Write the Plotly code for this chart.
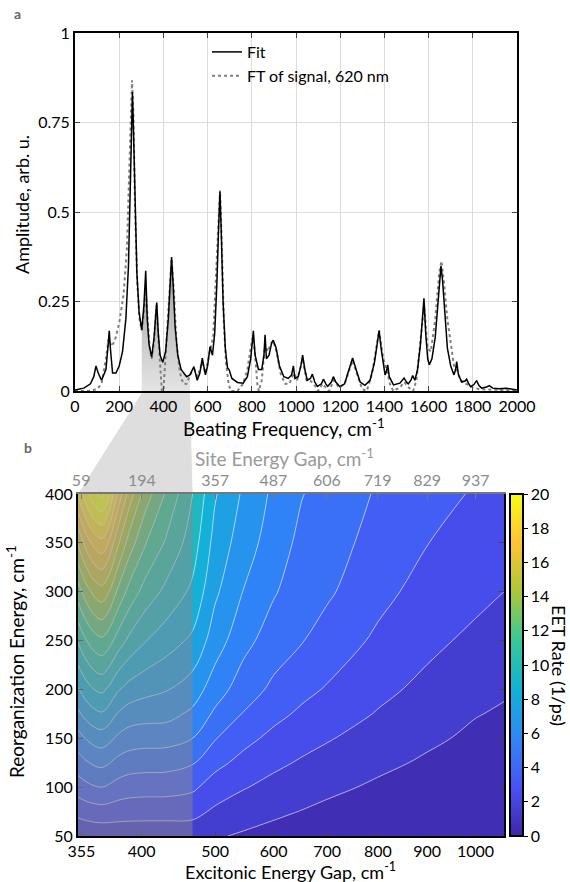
import numpy as np
import plotly.graph_objects as go

# ---- panel a: spectrum vertices ----
FIT_F = [0, 40, 70, 85, 95, 105, 120, 140, 150, 155, 160, 170, 185, 200, 215, 230, 242, 250, 256, 260,
         265, 272, 280, 290, 302, 312, 320, 327, 335, 347, 358, 365, 370, 377, 385, 397, 410, 422, 430, 437,
         444, 453, 465, 480, 505, 520, 538, 553, 565, 576, 590, 600, 611, 622, 632, 642, 650, 656, 662, 670,
         680, 690, 697, 710, 735, 761, 780, 795, 807, 815, 830, 845, 855, 860, 866, 878, 890, 897, 910, 925,
         945, 965, 980, 988, 995, 1010, 1022, 1030, 1040, 1051, 1065, 1074, 1085, 1097, 1115, 1124, 1135, 1144,
         1160, 1169, 1180, 1199, 1220, 1240, 1256, 1272, 1290, 1312, 1335, 1355, 1368, 1376, 1385, 1395, 1403,
         1409, 1415, 1422, 1441, 1470, 1489, 1500, 1508, 1520, 1528, 1538, 1550, 1563, 1573, 1579, 1587, 1596,
         1603, 1615, 1630, 1642, 1650, 1656, 1663, 1672, 1685, 1700, 1715, 1722, 1727, 1735, 1750, 1765, 1772,
         1780, 1790, 1805, 1817, 1828, 1840, 1865, 1875, 1890, 1920, 1950, 1980, 2000]
FIT_A = [0.003, 0.008, 0.02, 0.04, 0.07, 0.05, 0.03, 0.06, 0.13, 0.168, 0.12, 0.05, 0.05, 0.07, 0.11, 0.2, 0.35,
         0.55, 0.75, 0.835, 0.72, 0.5, 0.33, 0.22, 0.17, 0.24, 0.336, 0.2, 0.13, 0.095, 0.15, 0.21, 0.247, 0.16,
         0.1, 0.08, 0.11, 0.2, 0.3, 0.374, 0.3, 0.18, 0.1, 0.06, 0.04, 0.045, 0.068, 0.03, 0.05, 0.092, 0.045,
         0.07, 0.124, 0.1, 0.16, 0.3, 0.46, 0.557, 0.44, 0.25, 0.12, 0.065, 0.06, 0.035, 0.024, 0.022, 0.04,
         0.09, 0.168, 0.1, 0.06, 0.06, 0.1, 0.157, 0.09, 0.1, 0.135, 0.142, 0.12, 0.07, 0.04, 0.035, 0.045,
         0.07, 0.035, 0.04, 0.07, 0.1, 0.06, 0.03, 0.035, 0.047, 0.025, 0.013, 0.02, 0.033, 0.02, 0.013, 0.025,
         0.04, 0.025, 0.012, 0.02, 0.06, 0.092, 0.06, 0.025, 0.016, 0.03, 0.08, 0.14, 0.168, 0.12, 0.07, 0.045,
         0.055, 0.073, 0.04, 0.017, 0.022, 0.036, 0.025, 0.02, 0.03, 0.043, 0.03, 0.06, 0.13, 0.22, 0.259, 0.16,
         0.09, 0.073, 0.09, 0.15, 0.25, 0.32, 0.349, 0.31, 0.22, 0.12, 0.07, 0.045, 0.06, 0.082, 0.045, 0.025,
         0.028, 0.033, 0.022, 0.012, 0.018, 0.029, 0.015, 0.008, 0.012, 0.015, 0.008, 0.006, 0.008, 0.004, 0.003]

FT_F = [0, 60, 100, 120, 140, 152, 165, 180, 200, 220, 235, 245, 252, 258, 264, 272, 282, 292, 302, 312, 320,
        328, 338, 347, 358, 368, 376, 385, 393, 400, 410, 425, 437, 447, 460, 475, 490, 505, 525, 540, 555,
        575, 590, 610, 625, 640, 650, 656, 664, 673, 683, 695, 705, 735, 760, 780, 795, 805, 815, 825, 832,
        845, 860, 872, 885, 897, 912, 930, 950, 970, 990, 1005, 1030, 1048, 1062, 1080, 1100, 1120, 1135, 1150,
        1170, 1195, 1220, 1256, 1280, 1300, 1320, 1345, 1376, 1395, 1410, 1425, 1440, 1470, 1490, 1510, 1530,
        1545, 1560, 1580, 1595, 1610, 1630, 1648, 1658, 1670, 1685, 1700, 1715, 1728, 1745, 1770, 1800, 1830,
        1870, 1920, 2000]
FT_A = [0.0, 0.0, 0.005, 0.02, 0.09, 0.145, 0.125, 0.14, 0.19, 0.27, 0.4, 0.6, 0.78, 0.868, 0.78, 0.5, 0.3, 0.2,
        0.17, 0.22, 0.28, 0.2, 0.12, 0.09, 0.14, 0.24, 0.16, 0.06, 0.0, 0.0, 0.1, 0.28, 0.37, 0.28, 0.13, 0.05,
        0.02, 0.02, 0.05, 0.06, 0.04, 0.08, 0.05, 0.11, 0.15, 0.35, 0.5, 0.56, 0.42, 0.2, 0.08, 0.02, 0.0, 0.0,
        0.02, 0.06, 0.12, 0.15, 0.1, 0.02, 0.0, 0.03, 0.13, 0.11, 0.13, 0.14, 0.11, 0.05, 0.02, 0.02, 0.05, 0.03,
        0.09, 0.03, 0.03, 0.02, 0.0, 0.02, 0.01, 0.0, 0.03, 0.01, 0.02, 0.085, 0.04, 0.005, 0.0, 0.05, 0.17,
        0.09, 0.06, 0.02, 0.0, 0.01, 0.025, 0.01, 0.0, 0.03, 0.12, 0.24, 0.12, 0.11, 0.2, 0.33, 0.363, 0.3, 0.2,
        0.13, 0.07, 0.06, 0.03, 0.02, 0.01, 0.005, 0.005, 0.003, 0.0]

BAND = (302, 520)   # highlighted frequency window

# ---- panel b: EET rate map ----
SITE_GAP = [52, 70, 88, 105, 120, 140, 165, 200, 250, 307, 357, 420, 487, 550, 606, 719, 829, 937, 1000]
REORG = [50, 75, 100, 125, 150, 175, 200, 250, 300, 350, 400]
RATE = [
    [1.15, 1.22, 1.28, 1.3, 1.32, 1.35, 1.37, 1.37, 1.38, 1.4, 1.1, 0.88, 0.68, 0.5, 0.36, 0.25, 0.1, 0.05, 0.03],
    [2.3, 2.45, 2.55, 2.6, 2.56, 2.47, 2.41, 2.39, 2.38, 2.31, 1.83, 1.46, 1.18, 0.97, 0.78, 0.55, 0.3, 0.2, 0.15],
    [3.5, 3.75, 3.93, 4.0, 3.88, 3.63, 3.47, 3.41, 3.39, 3.18, 2.55, 2.07, 1.7, 1.43, 1.22, 0.85, 0.57, 0.4, 0.32],
    [4.55, 4.9, 5.15, 5.25, 5.07, 4.72, 4.49, 4.41, 4.37, 4.08, 3.29, 2.7, 2.22, 1.89, 1.66, 1.22, 0.87, 0.6, 0.52],
    [5.6, 6.05, 6.37, 6.5, 6.28, 5.83, 5.53, 5.42, 5.38, 5.0, 4.06, 3.3, 2.75, 2.36, 2.08, 1.58, 1.17, 0.82, 0.72],
    [6.8, 7.35, 7.74, 7.9, 7.59, 6.96, 6.54, 6.39, 6.33, 5.8, 4.82, 3.95, 3.28, 2.83, 2.5, 1.94, 1.46, 1.04, 0.9],
    [7.9, 8.55, 9.0, 9.2, 8.85, 8.12, 7.64, 7.32, 7.05, 6.51, 5.49, 4.48, 3.8, 3.26, 2.92, 2.24, 1.76, 1.29, 1.1],
    [10.1, 10.95, 11.55, 11.8, 11.44, 10.6, 9.8, 9.08, 8.44, 7.8, 6.49, 5.33, 4.5, 4.05, 3.6, 2.82, 2.23, 1.79, 1.55],
    [12.5, 13.55, 14.29, 14.6, 14.08, 12.85, 11.69, 10.64, 9.71, 8.78, 7.18, 5.97, 5.1, 4.45, 4.15, 3.3, 2.63, 2.25, 2.0],
    [15.1, 16.4, 17.31, 17.7, 16.96, 15.24, 13.6, 12.12, 10.81, 9.5, 7.64, 6.5, 5.5, 4.75, 4.42, 3.65, 3.02, 2.6, 2.4],
    [18.1, 19.7, 20.82, 21.3, 20.28, 17.91, 15.65, 13.62, 11.81, 10.0, 8.1, 6.85, 5.8, 5.04, 4.65, 3.9, 3.37, 2.9, 2.75],
]
SHADE_GAP = 307                     # end of shaded site-gap window
EXC_TICKS = [355, 400, 500, 600, 700, 800, 900, 1000]
SITE_TICKS = [59, 194, 357, 487, 606, 719, 829, 937]
SPLIT = 350.0                       # 2J, excitonic vs site gap
CB_TICKS = list(range(0, 21, 2))

PARULA = [[0, 'rgb(62,38,168)'], [1/7, 'rgb(72,82,244)'], [2/7, 'rgb(46,135,247)'],
          [3/7, 'rgb(18,177,214)'], [4/7, 'rgb(55,200,151)'], [5/7, 'rgb(171,199,57)'],
          [6/7, 'rgb(254,195,56)'], [1, 'rgb(249,251,21)']]

W, H = 570, 882
FONT = 'Lato'
TOP_X = [75 / W, 517 / W]
TOP_Y = [1 - 391 / H, 1 - 33 / H]
BOT_X = [78 / W, 504 / W]
BOT_Y = [1 - 836 / H, 1 - 494 / H]
GAP_RANGE = [52, 1000]

fig = go.Figure()

# shaded band under the fit
bf = [f for f in FIT_F if BAND[0] <= f <= BAND[1]]
ba = [a for f, a in zip(FIT_F, FIT_A) if BAND[0] <= f <= BAND[1]]
fig.add_trace(go.Scatter(x=bf, y=ba, mode='lines', line=dict(width=0), fill='tozeroy',
                         fillgradient=dict(type='vertical', start=0, stop=0.38,
                                           colorscale=[[0, '#e4e4e4'], [1, '#9c9c9c']]),
                         showlegend=False, hoverinfo='skip'))
fig.add_trace(go.Scatter(x=FT_F, y=FT_A, mode='lines', name='FT of signal, 620 nm', legendrank=2,
                         line=dict(color='#7f7f7f', width=2, dash='dot')))
fig.add_trace(go.Scatter(x=FIT_F, y=FIT_A, mode='lines', name='Fit', legendrank=1,
                         line=dict(color='black', width=1.5)))

fig.add_trace(go.Contour(x=SITE_GAP, y=REORG, z=RATE, xaxis='x2', yaxis='y2',
                         colorscale=PARULA, zmin=0, zmax=20, showscale=False,
                         contours=dict(start=0, end=21, size=1, coloring='fill'),
                         line=dict(color='rgba(255,255,255,0.85)', width=0.7, smoothing=1.0),
                         hoverinfo='skip'))
# continuous colour bar
fig.add_trace(go.Scatter(x=[None], y=[None], xaxis='x2', yaxis='y2', mode='markers', showlegend=False,
                         marker=dict(color=[0], colorscale=PARULA, cmin=0, cmax=20, showscale=True,
                                     colorbar=dict(x=510 / W, xanchor='left', y=BOT_Y[0], yanchor='bottom',
                                                   len=BOT_Y[1] - BOT_Y[0], lenmode='fraction',
                                                   thickness=13, thicknessmode='pixels', xpad=0, ypad=0,
                                                   outlinecolor='black', outlinewidth=2,
                                                   tickvals=CB_TICKS, ticks='outside', ticklen=4,
                                                   tickcolor='black',
                                                   tickfont=dict(family=FONT, size=16, color='black')))))
fig.add_trace(go.Scatter(x=[None], y=[None], xaxis='x3', yaxis='y2', showlegend=False, hoverinfo='skip'))

tickfont = dict(family=FONT, size=16, color='black')
fig.update_layout(
    width=W, height=H, margin=dict(l=0, r=0, t=0, b=0),
    paper_bgcolor='white', plot_bgcolor='white',
    font=dict(family=FONT, size=16, color='black'),
    showlegend=True,
    legend=dict(x=207 / W, y=1 - 35 / H, xanchor='left', yanchor='top', bgcolor='rgba(0,0,0,0)',
                font=dict(family=FONT, size=16), tracegroupgap=0),
    xaxis=dict(domain=TOP_X, anchor='y', range=[0, 2000], dtick=200, ticks='inside', ticklen=5,
               showline=True, linecolor='black', linewidth=2, mirror='ticks', showgrid=True,
               gridcolor='#dcdcdc', zeroline=False, tickfont=tickfont, automargin=False),
    yaxis=dict(domain=TOP_Y, anchor='x', range=[0, 1], tickvals=[0, 0.25, 0.5, 0.75, 1],
               ticktext=['0', '0.25', '0.5', '0.75', '1'], ticks='inside', ticklen=5,
               showline=True, linecolor='black', linewidth=2, mirror='ticks', showgrid=True,
               gridcolor='#dcdcdc', zeroline=False, tickfont=tickfont, automargin=False),
    xaxis2=dict(domain=BOT_X, anchor='y2', range=GAP_RANGE,
                tickvals=[float(np.sqrt(e ** 2 - SPLIT ** 2)) for e in EXC_TICKS],
                ticktext=[str(e) for e in EXC_TICKS], ticks='inside', ticklen=5,
                showline=True, linecolor='black', linewidth=2, showgrid=False, zeroline=False,
                tickfont=tickfont, automargin=False),
    xaxis3=dict(overlaying='x2', anchor='y2', side='top', range=GAP_RANGE, tickvals=SITE_TICKS,
                ticks='inside', ticklen=5, tickcolor='#777777', showline=True, linecolor='#777777',
                linewidth=2, showgrid=False, zeroline=False,
                tickfont=dict(family=FONT, size=16, color='#8c8c8c'), automargin=False),
    yaxis2=dict(domain=BOT_Y, anchor='x2', range=[50, 400], dtick=50, ticks='inside', ticklen=5,
                showline=True, linecolor='black', linewidth=2, mirror='ticks', showgrid=False,
                zeroline=False, tickfont=tickfont, automargin=False),
)


def top_px(f):
    return TOP_X[0] + f / 2000 * (TOP_X[1] - TOP_X[0])


def bot_px(g):
    return BOT_X[0] + (g - GAP_RANGE[0]) / (GAP_RANGE[1] - GAP_RANGE[0]) * (BOT_X[1] - BOT_X[0])


# connector between the two panels
path = 'M {} {} L {} {} L {} {} L {} {} Z'.format(
    top_px(308), TOP_Y[0], top_px(BAND[1]), TOP_Y[0], bot_px(SHADE_GAP), BOT_Y[1], bot_px(GAP_RANGE[0]), BOT_Y[1])
fig.add_shape(type='path', path=path, xref='paper', yref='paper', fillcolor='#dedede',
              line=dict(width=0), layer='below')
fig.add_shape(type='rect', xref='x2', yref='y2 domain', x0=GAP_RANGE[0], x1=SHADE_GAP, y0=0, y1=1,
              fillcolor='rgba(135,135,140,0.5)', line=dict(width=0), layer='above')


def note(text, px, py, size=19, color='black', angle=0, bold=False):
    fig.add_annotation(text='<b>%s</b>' % text if bold else text, x=px / W, y=1 - py / H,
                       xref='paper', yref='paper', showarrow=False, textangle=angle,
                       xanchor='center', yanchor='middle',
                       font=dict(family=FONT, size=size, color=color))


note('a', 17, 14, size=14, color='#666666', bold=True)
note('b', 28, 447, size=14, color='#666666', bold=True)
note('Amplitude, arb. u.', 22, 205, size=18, angle=-90)
note('Beating Frequency, cm<sup>-1</sup>', 284, 427)
note('Site Energy Gap, cm<sup>-1</sup>', 284, 457, color='#999999')
note('Reorganization Energy, cm<sup>-1</sup>', 15, 662, angle=-90)
note('Excitonic Energy Gap, cm<sup>-1</sup>', 290, 870.5, size=18)
note('EET Rate (1/ps)', 559, 665, size=18, angle=90)

# page body has a default 8px margin; drop it so the figure sits at the window corner
fig.write_html("out.html", config={'displayModeBar': False},
               post_script="document.body.style.margin='0px';")
